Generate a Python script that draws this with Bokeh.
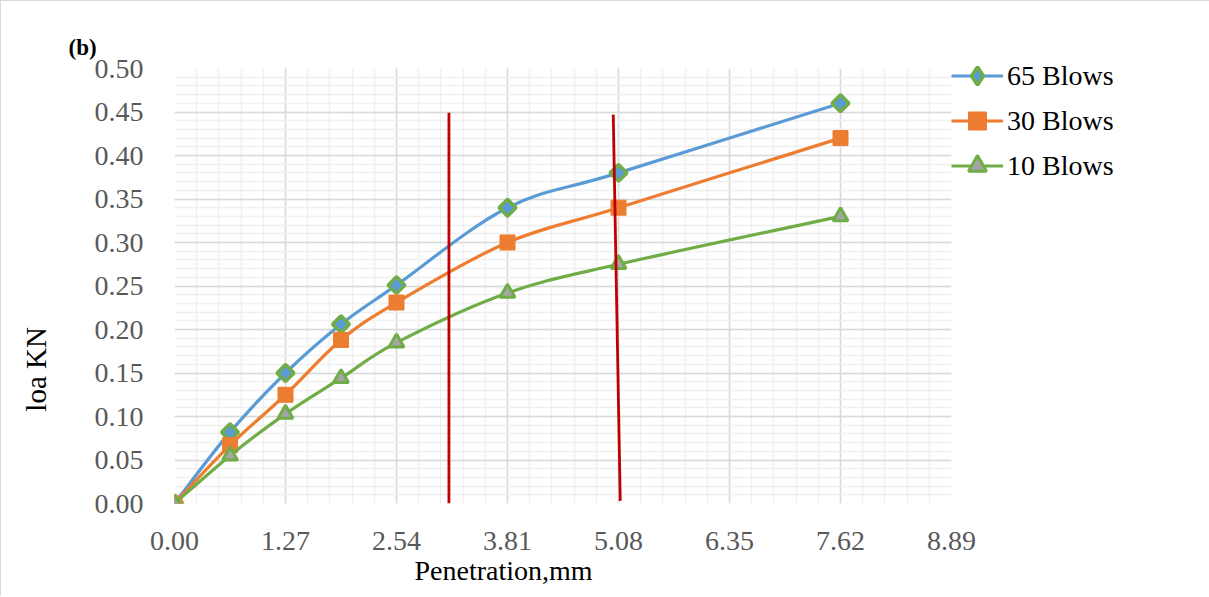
import numpy as np
from bokeh.plotting import figure
from bokeh.models import (Range1d, FixedTicker, Legend, LegendItem, ColumnDataSource, Title, LinearAxis)
from bokeh.embed import file_html
from bokeh.resources import INLINE

# ---- data ----
penetration = [0.0, 0.635, 1.27, 1.905, 2.54, 3.81, 5.08, 7.62]
load_65 = [0.0, 0.082, 0.150, 0.206, 0.251, 0.340, 0.380, 0.460]
load_30 = [0.0, 0.067, 0.125, 0.188, 0.231, 0.300, 0.340, 0.420]
load_10 = [0.0, 0.055, 0.103, 0.144, 0.185, 0.242, 0.275, 0.330]
series_names = ["65 Blows", "30 Blows", "10 Blows"]

x_ticks = [0.0, 1.27, 2.54, 3.81, 5.08, 6.35, 7.62, 8.89]
x_tick_labels = ["0.00", "1.27", "2.54", "3.81", "5.08", "6.35", "7.62", "8.89"]
y_ticks = [0.0, 0.05, 0.10, 0.15, 0.20, 0.25, 0.30, 0.35, 0.40, 0.45, 0.50]
y_tick_labels = ["0.00", "0.05", "0.10", "0.15", "0.20", "0.25", "0.30", "0.35", "0.40", "0.45", "0.50"]

# red marker lines (hand drawn in the original)
red_x0 = [3.14, 5.02]
red_y0 = [0.449, 0.447]
red_x1 = [3.14, 5.10]
red_y1 = [0.0, 0.003]

BLUE = "#5B9BD5"
ORANGE = "#ED7D31"
GREEN = "#70AD47"
GRAY = "#A5A5A5"
FONT = "Liberation Serif"

p = figure(frame_width=777, frame_height=435, output_backend="svg", toolbar_location=None,
           x_range=Range1d(0, 8.89), y_range=Range1d(0, 0.5),
           min_border_left=173, min_border_right=0, min_border_top=67, min_border_bottom=93)
p.styles = {"border-top": "1px solid #d9d9d9", "border-left": "1px solid #d9d9d9"}
p.outline_line_color = None

minor_x = [round(i * 0.254, 3) for i in range(36)]
minor_y = [round(i * 0.01, 3) for i in range(51)]
p.xaxis.ticker = FixedTicker(ticks=x_ticks, minor_ticks=minor_x)
p.yaxis.ticker = FixedTicker(ticks=y_ticks, minor_ticks=minor_y)
p.xaxis.major_label_overrides = dict(zip(x_ticks, x_tick_labels))
p.yaxis.major_label_overrides = dict(zip(y_ticks, y_tick_labels))

for ax in (p.xaxis, p.yaxis):
    ax.axis_line_color = None
    ax.major_tick_line_color = None
    ax.minor_tick_line_color = None
    ax.major_label_text_font = FONT
    ax.major_label_text_font_size = "28px"
    ax.major_label_text_color = "#595959"
p.xaxis.major_label_standoff = 22
p.yaxis.major_label_standoff = 25

p.xgrid.grid_line_color = "#D9D9D9"
p.ygrid.grid_line_color = "#D9D9D9"
p.xgrid.grid_line_width = 1.5
p.ygrid.grid_line_width = 1.5
p.xgrid.minor_grid_line_color = "#F0F0F0"
p.ygrid.minor_grid_line_color = "#F0F0F0"
p.xgrid.minor_grid_line_width = 1.5
p.ygrid.minor_grid_line_width = 1.5

# second left axis that carries only the y-axis title; trailing no-break spaces
# push the visible words lower along the axis, as in the original
label_axis = LinearAxis(ticker=FixedTicker(ticks=[]), axis_label="loa KN" + "\u00a0" * 23,
                        axis_line_color=None, major_tick_line_color=None, minor_tick_line_color=None,
                        major_label_text_font_size="0px", axis_label_standoff=40,
                        axis_label_text_font=FONT, axis_label_text_font_size="29px",
                        axis_label_text_font_style="normal", axis_label_text_color="#000000")
p.add_layout(label_axis, "left")


def bezier_source(xs, ys):
    xs = np.asarray(xs, float)
    ys = np.asarray(ys, float)
    n = len(xs)
    xp = np.concatenate([[xs[0]], xs, [xs[-1]]])
    yp = np.concatenate([[ys[0]], ys, [ys[-1]]])
    d = dict(x0=[], y0=[], x1=[], y1=[], cx0=[], cy0=[], cx1=[], cy1=[])
    for i in range(n - 1):
        a, b, c, e = i, i + 1, i + 2, i + 3
        d["x0"].append(xp[b]); d["y0"].append(yp[b])
        d["x1"].append(xp[c]); d["y1"].append(yp[c])
        d["cx0"].append(xp[b] + (xp[c] - xp[a]) / 6); d["cy0"].append(yp[b] + (yp[c] - yp[a]) / 6)
        d["cx1"].append(xp[c] - (xp[e] - xp[b]) / 6); d["cy1"].append(yp[c] - (yp[e] - yp[b]) / 6)
    return ColumnDataSource(d)


items = []
specs = [
    (load_65, BLUE, dict(marker="square", angle=np.pi / 4, size=12, fill_color=BLUE, line_color=GREEN, line_width=3.5),
     dict(marker="diamond", fill_color=BLUE, line_color=GREEN, line_width=3.5)),
    (load_30, ORANGE, dict(marker="square", size=15, fill_color=ORANGE, line_color=ORANGE, line_width=1), None),
    (load_10, GREEN, dict(marker="triangle", size=15, fill_color=GRAY, line_color=GREEN, line_width=3), None),
]
for name, (ys, col, mk, leg_mk) in zip(series_names, specs):
    src = bezier_source(penetration, ys)
    r_line = p.bezier(x0="x0", y0="y0", x1="x1", y1="y1", cx0="cx0", cy0="cy0", cx1="cx1", cy1="cy1",
                      source=src, line_color=col, line_width=3.2)
    r_pts = p.scatter(penetration, ys, **mk)
    if leg_mk is not None:
        # hidden renderer: only supplies the diamond symbol drawn in the legend
        r_leg = p.scatter(penetration, ys, visible=False, **leg_mk)
        items.append(LegendItem(label=name, renderers=[r_line, r_leg]))
    else:
        items.append(LegendItem(label=name, renderers=[r_line, r_pts]))

p.segment(red_x0, red_y0, red_x1, red_y1, line_color="#C00000", line_width=2.8)

legend = Legend(items=items, location=(0, 315), glyph_width=52, glyph_height=45,
                label_height=45, spacing=0, padding=0, margin=0, label_standoff=4,
                label_text_font=FONT, label_text_font_size="28px", label_text_color="#000000",
                background_fill_alpha=0, border_line_color=None)
p.add_layout(legend, "right")

p.add_layout(Title(text="Penetration,mm", align="left", offset=240, standoff=0,
                   text_font=FONT, text_font_size="28px", text_font_style="normal",
                   text_color="#000000"), "below")
p.add_layout(Title(text="(b)", align="left", offset=-106, standoff=14, vertical_align="top",
                   text_font=FONT, text_font_size="23px", text_font_style="bold",
                   text_color="#000000"), "above")

open("out.html", "w").write(file_html(p, INLINE))
